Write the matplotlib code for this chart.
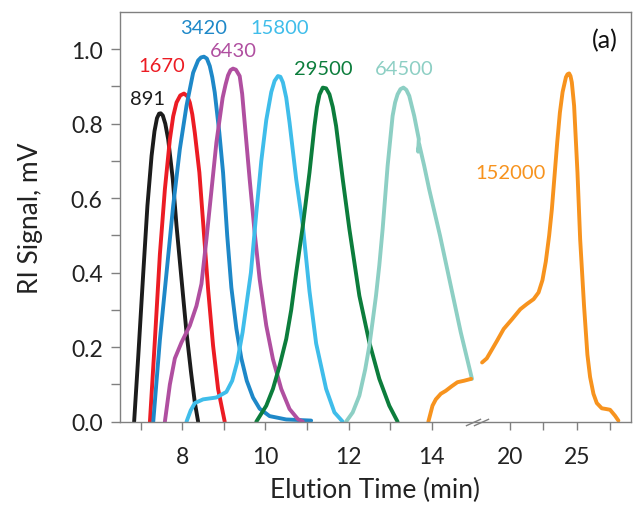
import numpy as np
import matplotlib
matplotlib.use("Agg")
import matplotlib.pyplot as plt
from matplotlib.path import Path
from matplotlib.transforms import blended_transform_factory, ScaledTranslation

# ---------------- data ----------------
t_891 = [6.84, 6.94, 7.06, 7.16, 7.26, 7.33, 7.39, 7.44, 7.48, 7.53, 7.59, 7.66, 7.77, 7.86, 7.98, 8.10, 8.21, 8.30, 8.38]
v_891 = [0.0, 0.177, 0.40, 0.58, 0.714, 0.78, 0.815, 0.827, 0.828, 0.822, 0.80, 0.758, 0.651, 0.526, 0.383, 0.24, 0.132, 0.052, 0.0]

t_1670 = [7.22, 7.34, 7.46, 7.58, 7.70, 7.78, 7.86, 7.95, 8.04, 8.12, 8.18, 8.24, 8.30, 8.41, 8.50, 8.62, 8.74, 8.86, 9.02]
v_1670 = [0.0, 0.22, 0.45, 0.624, 0.758, 0.82, 0.857, 0.876, 0.881, 0.874, 0.857, 0.825, 0.776, 0.669, 0.535, 0.356, 0.204, 0.088, 0.0]

t_3420 = [7.30, 7.46, 7.62, 7.78, 7.94, 8.10, 8.26, 8.38, 8.45, 8.52, 8.59, 8.66, 8.72, 8.78, 8.89, 8.98, 9.08, 9.18,
          9.30, 9.42, 9.55, 9.70, 9.86, 10.10, 10.50, 11.10]
v_3420 = [0.0, 0.22, 0.40, 0.58, 0.732, 0.848, 0.937, 0.97, 0.978, 0.98, 0.975, 0.955, 0.925, 0.884, 0.776, 0.669, 0.50, 0.36,
          0.25, 0.17, 0.11, 0.065, 0.035, 0.015, 0.006, 0.003]

t_6430 = [7.58, 7.70, 7.82, 7.98, 8.18, 8.34, 8.46, 8.58, 8.70, 8.82, 8.97, 9.04, 9.10, 9.16, 9.22, 9.29, 9.38, 9.44, 9.50,
          9.62, 9.74, 9.86, 10.02, 10.18, 10.38, 10.58, 10.78, 10.90]
v_6430 = [0.0, 0.10, 0.17, 0.213, 0.258, 0.311, 0.37, 0.49, 0.62, 0.75, 0.87, 0.905, 0.93, 0.944, 0.948, 0.945, 0.928, 0.88, 0.803,
          0.651, 0.508, 0.383, 0.258, 0.168, 0.088, 0.034, 0.007, 0.0]

t_15800 = [8.10, 8.20, 8.30, 8.50, 8.82, 9.06, 9.20, 9.32, 9.45, 9.55, 9.65, 9.78, 9.90, 10.02, 10.14, 10.22,
           10.30, 10.36, 10.42, 10.50, 10.58, 10.74, 10.90, 11.06, 11.22, 11.46, 11.66, 11.86]
v_15800 = [0.0, 0.03, 0.05, 0.06, 0.065, 0.08, 0.11, 0.16, 0.24, 0.32, 0.40, 0.56, 0.70, 0.81, 0.885, 0.915,
           0.928, 0.926, 0.911, 0.87, 0.803, 0.651, 0.526, 0.35, 0.21, 0.088, 0.025, 0.0]

t_29500 = [9.78, 10.02, 10.18, 10.34, 10.50, 10.62, 10.74, 10.90, 11.06, 11.18, 11.24, 11.30, 11.38, 11.46, 11.54,
           11.62, 11.70, 11.86, 12.02, 12.26, 12.50, 12.74, 12.98, 13.18]
v_29500 = [0.0, 0.043, 0.088, 0.15, 0.222, 0.30, 0.40, 0.526, 0.669, 0.794, 0.845, 0.878, 0.897, 0.895, 0.879,
           0.845, 0.794, 0.651, 0.517, 0.338, 0.213, 0.115, 0.043, 0.0]

t_64500 = [11.94, 12.10, 12.26, 12.40, 12.50, 12.58, 12.66, 12.74, 12.82, 12.94, 13.06, 13.12, 13.18, 13.25, 13.32,
           13.39, 13.46, 13.58, 13.69, 13.675, 13.70, 13.82, 13.94, 14.20, 14.45, 14.70, 14.97]
v_64500 = [0.0, 0.025, 0.07, 0.14, 0.204, 0.27, 0.338, 0.42, 0.517, 0.687, 0.821, 0.857, 0.879, 0.893, 0.897,
           0.891, 0.875, 0.821, 0.759, 0.725, 0.745, 0.687, 0.624, 0.50, 0.37, 0.24, 0.115]

# 152000 is drawn in two pieces, on either side of the axis break
t_152000_a = [13.92, 14.02, 14.10, 14.22, 14.34, 14.48, 14.62, 14.78, 14.95]
v_152000_a = [0.0, 0.043, 0.06, 0.075, 0.083, 0.095, 0.106, 0.11, 0.115]
t_152000_b = [17.95, 18.30, 18.56, 19.06, 19.56, 20.18, 20.80, 21.29, 21.79, 22.16, 22.45, 22.70, 22.95,
              23.15, 23.35, 23.55, 23.75, 23.95, 24.20, 24.32, 24.44, 24.54, 24.64, 24.81, 25.06, 25.26, 25.55, 25.80,
              26.00, 26.25, 26.50, 26.87, 27.20, 27.49, 27.86, 28.11]
v_152000_b = [0.159, 0.17, 0.186, 0.217, 0.249, 0.275, 0.302, 0.316, 0.329, 0.347, 0.38, 0.43, 0.50,
              0.57, 0.66, 0.75, 0.83, 0.885, 0.925, 0.933, 0.935, 0.928, 0.911, 0.848, 0.669, 0.49, 0.311, 0.18,
              0.12, 0.075, 0.05, 0.036, 0.034, 0.032, 0.016, 0.003]

series_labels = ["891", "1670", "3420", "6430", "15800", "29500", "64500", "152000"]
series_colors = ["#1c1c1c", "#ec1c24", "#1e88c8", "#b04fa0", "#3fbdea", "#0c7d3c", "#8dcfc4", "#f7931e"]
label_x = [7.15, 7.50, 8.52, 9.24, 10.34, 11.40, 13.34, 20.05]
label_y = [0.869, 0.957, 1.059, 0.997, 1.059, 0.949, 0.949, 0.670]

x_ticks = [7, 8, 9, 10, 11, 12, 13, 14, 20, 22.5, 25, 27.5]
x_ticklabels = ["", "8", "", "10", "", "12", "", "14", "20", "", "25", ""]
y_major = [0.0, 0.2, 0.4, 0.6, 0.8, 1.0]
y_minor = [0.1, 0.3, 0.5, 0.7, 0.9]

# ---------------- broken x scale ----------------
BRK_LO, BRK_HI = 15.1, 17.6
RATIO = 13.45 / 41.66


def fwd(x):
    x = np.asarray(x, dtype=float)
    return np.where(x <= BRK_LO, x,
                    np.where(x >= BRK_HI, BRK_LO + (x - BRK_HI) * RATIO, BRK_LO))


def inv(u):
    u = np.asarray(u, dtype=float)
    return np.where(u <= BRK_LO, u, BRK_HI + (u - BRK_LO) / RATIO)


plt.rcParams['font.family'] = ['Lato', 'DejaVu Sans']

fig = plt.figure(figsize=(6.33, 5.10), dpi=100)
ax = fig.add_axes([120 / 633, 1 - 422.7 / 510, 511 / 633, (422.7 - 13) / 510])
ax.set_xscale('function', functions=(fwd, inv))

LW = 2.8
series = [(t_891, v_891), (t_1670, v_1670), (t_3420, v_3420), (t_6430, v_6430),
          (t_15800, v_15800), (t_29500, v_29500), (t_64500, v_64500)]
for (t, v), c in zip(series, series_colors[:7]):
    ax.plot(t, v, color=c, lw=LW, solid_capstyle='round', solid_joinstyle='round')
for t, v in [(t_152000_a, v_152000_a), (t_152000_b, v_152000_b)]:
    ax.plot(t, v, color=series_colors[7], lw=LW, solid_capstyle='round', solid_joinstyle='round')

for lab, c, x, y in zip(series_labels, series_colors, label_x, label_y):
    ax.text(x, y, lab, color=c, fontsize=14.5, ha='center', va='center')
ax.text(27.12, 1.027, "(a)", color='#111111', fontsize=18, ha='center', va='center')

ax.set_xlim(6.5, 29.05)
ax.set_ylim(0, 1.1)
ax.set_xticks(x_ticks)
ax.set_xticklabels(x_ticklabels)
ax.set_yticks(y_major)
ax.set_yticklabels([f"{v:.1f}" for v in y_major])
ax.set_yticks(y_minor, minor=True)
ax.tick_params(axis='both', which='both', direction='out', color='#808080',
               labelcolor='#222222', labelsize=16.5, width=1)
ax.tick_params(axis='y', which='both', length=6.5, pad=6)
ax.tick_params(axis='x', which='major', length=5.5, pad=12)
for s in ax.spines.values():
    s.set_color('#808080')
    s.set_linewidth(1.0)

ax.set_xlabel("Elution Time (min)", fontsize=19, color='#222222', labelpad=7)
ax.set_ylabel("RI Signal, mV", fontsize=19, color='#222222', labelpad=20)

# axis-break marks "//"
brk = Path([(-1.0, -0.45), (1.0, 0.45)], [Path.MOVETO, Path.LINETO])
trans = blended_transform_factory(ax.transData, ax.transAxes)
for dx in (-0.04, 0.04):
    off = ScaledTranslation(dx, 0, fig.dpi_scale_trans)
    ax.plot([BRK_LO], [0], marker=brk, ms=11, mew=1.0, color='#808080',
            transform=trans + off, clip_on=False)

fig.savefig("out.png", dpi=100)
